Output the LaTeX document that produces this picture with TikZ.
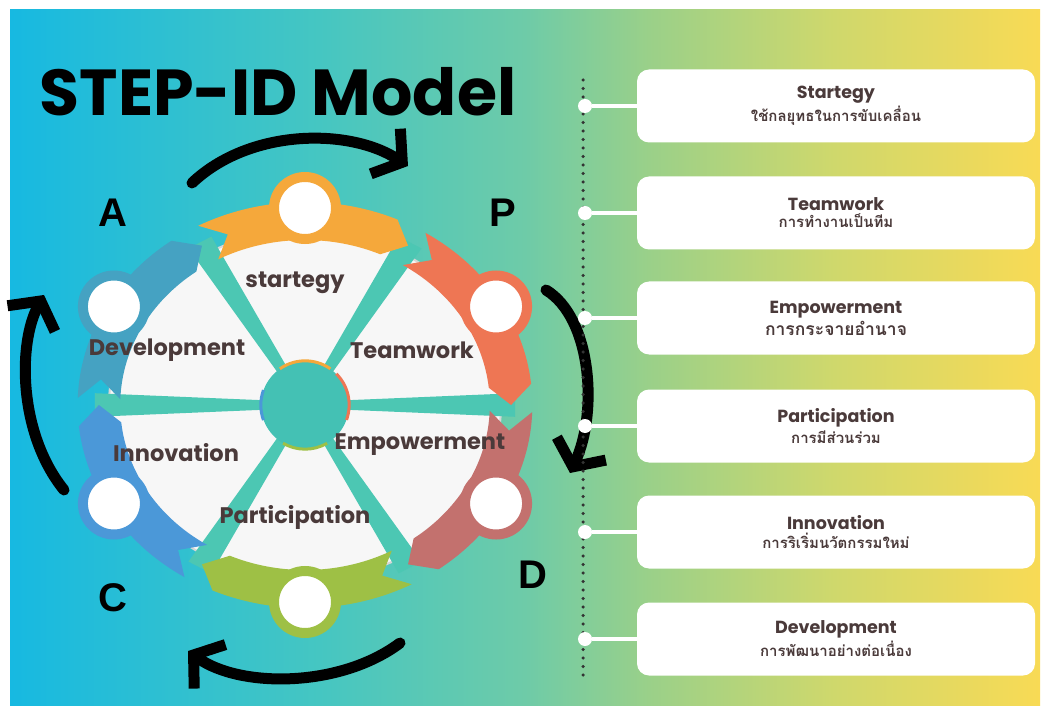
\documentclass[tikz,border=0pt]{standalone}
\usepackage{fontspec}
\usepackage{tikz}
\usetikzlibrary{arrows.meta}
\setmainfont{Poppins}
\newfontfamily\thaifont[Script=Thai]{Loma}
\newfontfamily\letterfont{Liberation Sans}

\definecolor{bgA}{HTML}{17B9E1}
\definecolor{bgB}{HTML}{45C6C2}
\definecolor{bgC}{HTML}{6ECBA8}
\definecolor{bgD}{HTML}{9AD089}
\definecolor{bgE}{HTML}{CFD86C}
\definecolor{bgF}{HTML}{F8DA55}
\definecolor{bandorange}{HTML}{F5A83B}
\definecolor{bandcoral}{HTML}{EE7654}
\definecolor{bandrose}{HTML}{C3716E}
\definecolor{bandgreen}{HTML}{9EC045}
\definecolor{bandblue}{HTML}{4B98D8}
\definecolor{bandsteel}{HTML}{45A2C2}
\definecolor{spoketeal}{HTML}{4CC7B3}
\definecolor{hubteal}{HTML}{44C1B4}
\definecolor{labeltext}{HTML}{4A3A3A}
\definecolor{dotgray}{HTML}{333333}

\pgfdeclarehorizontalshading{bgshade}{100bp}{color(0bp)=(bgA); color(25bp)=(bgA); color(40bp)=(bgB); color(50bp)=(bgC); color(56bp)=(bgD); color(65bp)=(bgE); color(75bp)=(bgF); color(100bp)=(bgF)}

\newcommand{\boxtitle}{\bfseries\fontsize{17.5}{20}\selectfont}
\newcommand{\boxthai}{\thaifont\bfseries\fontsize{15}{17}\selectfont}

% one coloured piece of the outer ring, #1 = middle angle, #2 = colour
\newcommand{\ringband}[2]{%
  \fill[#2] ({#1+28}:203) arc[start angle={#1+28}, end angle={#1-24}, radius=203]
    -- ({#1-30}:184) -- ({#1-24}:165) arc[start angle={#1-24}, end angle={#1+28}, radius=165]
    -- ({#1+22}:184) -- cycle;}
% one spoke of the wheel, #1 = angle
\newcommand{\wheelspoke}[1]{%
  \fill[spoketeal] ({#1+7}:40) -- ({#1+3.6}:188) -- ({#1-3.6}:188) -- ({#1-7}:40) -- cycle;}

\begin{document}
\begin{tikzpicture}[x=1pt, y=1pt,
    wordlabel/.style={font=\bfseries\fontsize{22.5}{24}\selectfont, text=labeltext},
    ringnode/.style={circle, fill=white, draw=#1, line width=10pt, minimum size=62pt, inner sep=0pt},
    bigletter/.style={font=\letterfont\bfseries\fontsize{40}{40}\selectfont},
    bigarrow/.style={line width=11pt, line cap=round, -{Straight Barb[length=20pt,width=54pt]}},
    infobox/.style={rectangle, rounded corners=12pt, fill=white, minimum width=398pt, minimum height=73pt, align=center, text=labeltext},
    linkdot/.style={circle, fill=white, minimum size=14pt, inner sep=0pt}]
    \useasboundingbox (0,0) rectangle (1048,713);
    \fill[white] (0,0) rectangle (1048,713);
    \fill[shading=bgshade] (10,8) rectangle (1040,703);

    % title
    \node[font=\bfseries\fontsize{65}{65}\selectfont] (title) at (278,621) {STEP-ID Model};

    % wheel
    \begin{scope}[shift={(305,308)}, xscale=1.12]
        \fill[white!97!black, draw=white!84!black, line width=2pt] (0,0) circle (175);
        \wheelspoke{0}
        \wheelspoke{60}
        \wheelspoke{120}
        \wheelspoke{180}
        \wheelspoke{240}
        \wheelspoke{300}
        \ringband{90}{bandorange}
        \ringband{30}{bandcoral}
        \ringband{-30}{bandrose}
        \ringband{-90}{bandgreen}
        \ringband{-150}{bandblue}
        \ringband{150}{bandsteel}
        \node[ringnode=bandorange] (nstrat) at (90:197) {};
        \node[ringnode=bandcoral] (nteam) at (30:197) {};
        \node[ringnode=bandrose] (nempow) at (-30:197) {};
        \node[ringnode=bandgreen] (npart) at (-90:197) {};
        \node[ringnode=bandblue] (ninnov) at (-150:197) {};
        \node[ringnode=bandsteel] (ndev) at (150:197) {};
    \end{scope}
    \node[circle, fill=hubteal, minimum size=88pt, inner sep=0pt] (hub) at (305,308) {};
    \draw[bandorange, line width=3pt] (hub.55) arc[start angle=55, end angle=125, radius=44];
    \draw[bandcoral, line width=3pt] (hub.45) arc[start angle=45, end angle=-20, radius=44];
    \draw[bandgreen, line width=3pt] (hub.-60) arc[start angle=-60, end angle=-120, radius=44];
    \draw[bandblue, line width=3pt] (hub.200) arc[start angle=200, end angle=160, radius=44];

    \node[wordlabel] (lstrat) at (295,430) {startegy};
    \node[wordlabel] (lteam) at (412,363) {Teamwork};
    \node[wordlabel] (ldev) at (167,363) {Development};
    \node[wordlabel] (linnov) at (176,260) {Innovation};
    \node[wordlabel] (lempow) at (420,268) {Empowerment};
    \node[wordlabel] (lpart) at (295,196) {Participation};

    % PDCA letters
    \node[bigletter] (la) at (113,500) {A};
    \node[bigletter] (lp) at (503,500) {P};
    \node[bigletter] (lc) at (113,115) {C};
    \node[bigletter] (ld) at (533,138) {D};

    % turning arrows
    \coordinate (topS) at (192,530);
    \coordinate (topE) at (408,547);
    \coordinate (rightS) at (546,423);
    \coordinate (rightE) at (570,240);
    \coordinate (botS) at (400,70);
    \coordinate (botE) at (188,62);
    \coordinate (leftS) at (64,223);
    \coordinate (leftE) at (44,418);
    \draw[bigarrow] (topS) .. controls (250,585) and (350,585) .. (topE);
    \draw[bigarrow] (rightS) .. controls (592,395) and (598,300) .. (rightE);
    \draw[bigarrow] (botS) .. controls (340,25) and (240,25) .. (botE);
    \draw[bigarrow] (leftS) .. controls (18,280) and (18,370) .. (leftE);

    % time line on the right
    \coordinate (ltop) at (583,633);
    \coordinate (lbot) at (583,33);
    \draw[dotgray, line width=3.5pt, line cap=round, dash pattern=on 0pt off 8.5pt] (ltop) -- (lbot);

    \node[infobox] (b1) at (836,607) {{\boxtitle Startegy}\\[2pt]{\boxthai ใช้กลยุทธในการขับเคลื่อน}};
    \node[infobox] (b2) at (836,500) {{\boxtitle Teamwork}\\[2pt]{\boxthai การทำงานเป็นทีม}};
    \node[infobox] (b3) at (836,395) {{\boxtitle Empowerment}\\[2pt]{\thaifont\bfseries\fontsize{17.5}{19}\selectfont การกระจายอำนาจ}};
    \node[infobox] (b4) at (836,287) {{\boxtitle Participation}\\[2pt]{\boxthai การมีส่วนร่วม}};
    \node[infobox] (b5) at (836,181) {{\boxtitle Innovation}\\[2pt]{\boxthai การริเริ่มนวัตกรรมใหม่}};
    \node[infobox] (b6) at (836,74) {{\boxtitle Development}\\[2pt]{\boxthai การพัฒนาอย่างต่อเนื่อง}};

    \node[linkdot] (d1) at (585,607) {};
    \node[linkdot] (d2) at (585,500) {};
    \node[linkdot] (d3) at (585,395) {};
    \node[linkdot] (d4) at (585,287) {};
    \node[linkdot] (d5) at (585,181) {};
    \node[linkdot] (d6) at (585,74) {};
    \draw[white, line width=4pt] (d1) -- (b1);
    \draw[white, line width=4pt] (d2) -- (b2);
    \draw[white, line width=4pt] (d3) -- (b3);
    \draw[white, line width=4pt] (d4) -- (b4);
    \draw[white, line width=4pt] (d5) -- (b5);
    \draw[white, line width=4pt] (d6) -- (b6);
\end{tikzpicture}
\end{document}
